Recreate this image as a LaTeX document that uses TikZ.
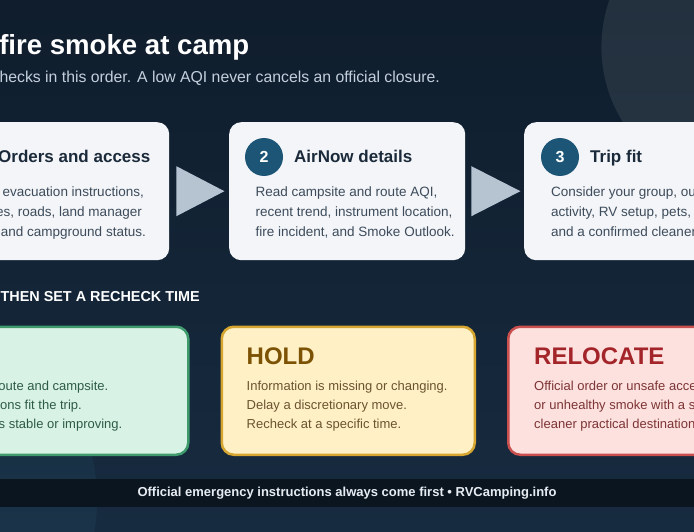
\documentclass[tikz,border=0pt]{standalone}
\usepackage{fontspec}
\setmainfont{Liberation Sans}
\usetikzlibrary{calc}
\definecolor{bgtop}{HTML}{0F1D2C}
\definecolor{bgbot}{HTML}{172B40}
\definecolor{cardbg}{HTML}{F3F5F8}
\definecolor{arrowcol}{HTML}{B6C4D2}
\definecolor{numblue}{HTML}{1D5576}
\definecolor{cardtitle}{HTML}{1B2A3A}
\definecolor{cardbody}{HTML}{3D4B5B}
\definecolor{subcol}{HTML}{C3CFDC}
\definecolor{gofill}{HTML}{D8F3E5}
\definecolor{godraw}{HTML}{3F9B6C}
\definecolor{gotext}{HTML}{2E5B45}
\definecolor{holdfill}{HTML}{FFF0C6}
\definecolor{holddraw}{HTML}{D6A630}
\definecolor{holdtitle}{HTML}{7C5204}
\definecolor{holdtext}{HTML}{6A5430}
\definecolor{relfill}{HTML}{FDE1DF}
\definecolor{reldraw}{HTML}{C9504E}
\definecolor{reltitle}{HTML}{A3252A}
\definecolor{reltext}{HTML}{7C3434}
\definecolor{footband}{HTML}{0B1520}
\definecolor{foottext}{HTML}{E6ECF2}
\definecolor{tealglow}{HTML}{3A8A9A}
\tikzset{
  card/.style={rectangle, fill=cardbg, rounded corners=12pt, minimum width=236pt, minimum height=138pt, anchor=north west, inner sep=0},
  numc/.style={circle, fill=numblue, minimum size=38pt, inner sep=0, text=white, font=\fontsize{16}{16}\selectfont\bfseries},
  ctitle/.style={anchor=base west, inner sep=0, text=cardtitle, font=\fontsize{17}{20}\selectfont\bfseries},
  cbody/.style={anchor=base west, inner sep=0, text=cardbody, font=\fontsize{13.5}{16}\selectfont},
  cbodyr/.style={cbody, anchor=base east},
  decision/.style={rectangle, rounded corners=12pt, line width=2.5pt, minimum width=253pt, minimum height=128pt, anchor=north west, inner sep=0},
  dtitle/.style={anchor=base west, inner sep=0, font=\fontsize{24}{28}\selectfont\bfseries},
  dbody/.style={anchor=base west, inner sep=0, font=\fontsize{13}{15}\selectfont},
  arrowtri/.style={fill=arrowcol},
}
\begin{document}
\begin{tikzpicture}[x=1pt,y=-1pt]
\useasboundingbox (0,0) rectangle (694,532);
\clip (0,0) rectangle (694,532);
% background
\shade[top color=bgtop, bottom color=bgbot] (0,0) rectangle (694,532);
\fill[white, opacity=0.085] (743,47) circle (141.6);
\fill[tealglow, opacity=0.09] (-103,500) circle (200);
% title
\node[anchor=base east, inner sep=0, text=white, font=\fontsize{27.6}{31}\selectfont\bfseries] (title) at (249.5,55) {fire smoke at camp};
\node[anchor=base east, inner sep=0, text=subcol, font=\fontsize{15.8}{18}\selectfont] (subtitle) at (440,83) {hecks in this order. A low AQI never cancels an official closure.};
% step cards
\node[card] (c1) at (-67,122) {};
\node[card] (c2) at (229,122) {};
\node[card] (c3) at (524,122) {};
% arrows
\fill[arrowtri] ($(c1.east)+(7,-25)$) -- ($(c1.east)+(55,0)$) -- ($(c1.east)+(7,25)$) -- cycle;
\fill[arrowtri] ($(c2.east)+(6,-25)$) -- ($(c2.east)+(55,0)$) -- ($(c2.east)+(6,25)$) -- cycle;
% card 1
\node[ctitle] (t1) at (-2,163) {Orders and access};
\node[cbodyr] (b11) at (144,196.5) {evacuation instructions,};
\node[cbodyr] (b12) at (142,216.5) {es, roads, land manager};
\node[cbodyr] (b13) at (146,236.5) {and campground status.};
% card 2
\node[numc] (n2) at (264,157) {2};
\node[ctitle] (t2) at (294,163) {AirNow details};
\node[cbody] (b21) at (255.5,196.5) {Read campsite and route AQI,};
\node[cbody] (b22) at (255.5,216.5) {recent trend, instrument location,};
\node[cbody] (b23) at (255.5,236.5) {fire incident, and Smoke Outlook.};
% card 3
\node[numc] (n3) at (560,157) {3};
\node[ctitle] (t3) at (590,163) {Trip fit};
\node[cbody] (b31) at (551,196.5) {Consider your group, outdoor};
\node[cbody] (b32) at (551,216.5) {activity, RV setup, pets,};
\node[cbody] (b33) at (551,236.5) {and a confirmed cleaner option.};
% section heading
\node[anchor=base east, inner sep=0, text=white, font=\fontsize{14.4}{16}\selectfont\bfseries] (sect) at (200,301) {THEN SET A RECHECK TIME};
% decision boxes
\node[decision, fill=gofill, draw=godraw] (go) at (-66,325.5) {};
\node[decision, fill=holdfill, draw=holddraw] (hold) at (220.5,325.5) {};
\node[decision, fill=relfill, draw=reldraw] (rel) at (507,325.5) {};
% go text
\node[dbody, anchor=base east, text=gotext] (g1) at (108.5,390.5) {oute and campsite.};
\node[dbody, anchor=base east, text=gotext] (g2) at (82,409.5) {ons fit the trip.};
\node[dbody, anchor=base east, text=gotext] (g3) at (122.5,428.5) {s stable or improving.};
% hold text
\node[dtitle, text=holdtitle] (ht) at (246.5,364) {HOLD};
\node[dbody, text=holdtext] (h1) at (246.5,390.5) {Information is missing or changing.};
\node[dbody, text=holdtext] (h2) at (246.5,409.5) {Delay a discretionary move.};
\node[dbody, text=holdtext] (h3) at (246.5,428.5) {Recheck at a specific time.};
% relocate text
\node[dtitle, text=reltitle] (rt) at (534,364) {RELOCATE};
\node[dbody, text=reltext] (r1) at (534,390.5) {Official order or unsafe access,};
\node[dbody, text=reltext] (r2) at (534,409.5) {or unhealthy smoke with a safer,};
\node[dbody, text=reltext] (r3) at (534,428.5) {cleaner practical destination.};
% footer
\fill[footband] (0,479) rectangle (694,507);
\node[inner sep=0, text=foottext, font=\fontsize{13}{15}\selectfont\bfseries] (foot) at (347,493) {Official emergency instructions always come first \textbullet{} RVCamping.info};
\end{tikzpicture}
\end{document}
